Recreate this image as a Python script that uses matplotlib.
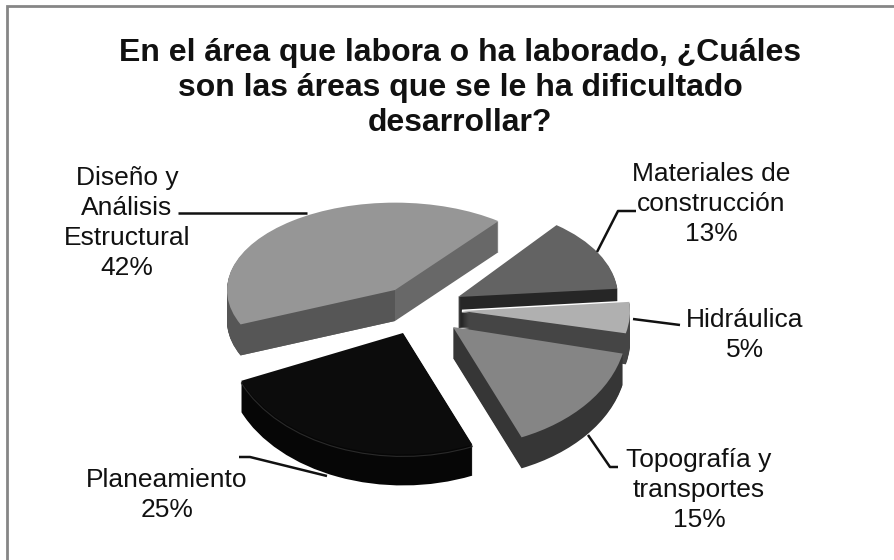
import matplotlib
matplotlib.use("Agg")
import matplotlib.pyplot as plt
from matplotlib.transforms import Affine2D
from matplotlib.patches import Rectangle

# Data, in the pie's drawing order (clockwise from the start angle)
categories = ["Materiales de\nconstrucción", "Hidráulica", "Topografía y\ntransportes", "Planeamiento", "Diseño y\nAnálisis\nEstructural"]
values = [13, 5, 15, 25, 42]
title = "En el área que labora o ha laborado, ¿Cuáles\nson las áreas que se le ha dificultado\ndesarrollar?"

# Appearance of each slice: apex x, apex y, radius, squash
geom = [(458, 297, 160, 0.57), (462, 311, 168, 0.60), (453, 327, 174, 0.69), (403, 333, 176, 0.69), (395, 290, 168, 0.52)]
top_col = ["#636363", "#b0b0b0", "#858585", "#0c0c0c", "#969696"]
side_col = ["#262626", "#454545", "#363636", "#060606", "#686868"]
base_z = [30, 40, 50, 20, 10]
DEPTH = 31
START = 52

plt.rcParams["font.family"] = "Liberation Sans"
fig = plt.figure(figsize=(8.94, 5.60), dpi=100, facecolor="white")
ax = fig.add_axes([0, 0, 1, 1])


def layer(dy, colors, z, edge=None, lw=0, only=None, clip=None):
    wedges, _ = ax.pie(values, startangle=START, counterclock=False, colors=colors)
    for i, w in enumerate(wedges):
        if only is not None and i not in only:
            w.set_visible(False)
            continue
        cx, cy, r, k = geom[i]
        w.set_transform(Affine2D().scale(r, -r * k).translate(cx, cy + dy) + ax.transData)
        w.set_zorder(base_z[i] + z)
        w.set_clip_on(False)
        if edge:
            w.set_edgecolor(edge)
            w.set_linewidth(lw)
        else:
            w.set_edgecolor("none")
            w.set_linewidth(0)
        if clip is not None:
            w.set_clip_on(True)
            w.set_clip_path(clip)


layer(0, ["white"] * 5, 0, edge="white", lw=2.0, only=[1])
for d in range(DEPTH, 0, -1):
    layer(d, side_col, 1)
# darker cut face on the left of the large slice
cut = Rectangle((0, 0), geom[4][0], 560, transform=ax.transData)
for d in range(DEPTH, 0, -1):
    layer(d, side_col[:4] + ["#565656"], 2, only=[4], clip=cut)
layer(0, top_col, 3)
# thin rim glint on the black slice
layer(2, ["none"] * 5, 2.5, edge="#2a2a2a", lw=0.8, only=[3])

ax.set_aspect("auto")
ax.set_xlim(0, 894)
ax.set_ylim(560, 0)
ax.axis("off")

# frame: only the top and left lines
ax.plot([7, 7, 894], [560, 6, 6], color="#868686", lw=2.0, zorder=100, solid_joinstyle="miter", clip_on=False)

ax.text(460, 88, title, ha="center", va="center", fontsize=23, fontweight="bold", color="#111111", linespacing=1.22, zorder=110)

label_pos = [(711, 204), (745, 335), (699, 490), (167, 495), (127, 223)]
for name, v, (x, y) in zip(categories, values, label_pos):
    ax.text(x, y, f"{name}\n{v}%", ha="center", va="center", fontsize=19, color="#111111", linespacing=1.33, zorder=110)

leaders = [([178, 307], [213, 213]), ([636, 618, 597], [211, 211, 252]), ([633, 680], [319, 325]),
           ([588, 610, 618], [435, 467, 467]), ([239, 250, 327], [457, 457, 476])]
for xs, ys in leaders:
    ax.plot(xs, ys, color="#111111", lw=1.8, zorder=105, solid_capstyle="butt")

fig.savefig("out.png", dpi=100, facecolor="white")
